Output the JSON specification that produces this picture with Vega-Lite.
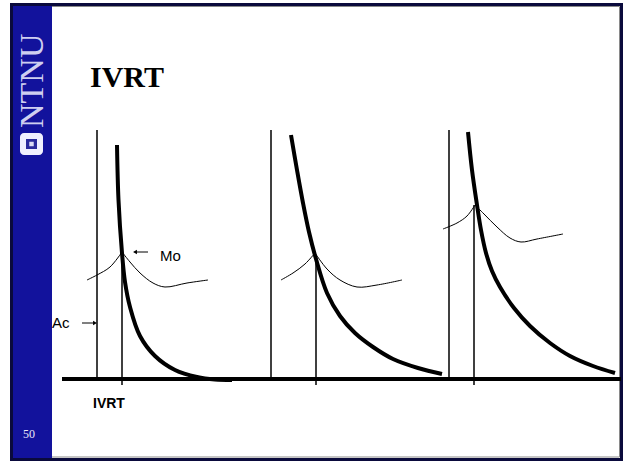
{
  "$schema": "https://vega.github.io/schema/vega-lite/v6.json",
  "width": 628,
  "height": 461,
  "padding": 0,
  "autosize": {"type": "fit", "contains": "padding"},
  "background": "white",
  "view": {"stroke": null},
  "datasets": {
    "frame": [{"x1": 11.5, "x2": 621.5, "y1": 4.5, "y2": 459.5}],
    "inner": [{"x1": 13, "x2": 619.5, "y1": 6.5, "y2": 457}],
    "band": [{"x1": 13, "x2": 52, "y1": 6, "y2": 458}],
    "logo": [{"x1": 20, "x2": 43, "y1": 133, "y2": 155}],
    "logoInner": [{"x1": 26, "x2": 37, "y1": 139, "y2": 149}],
    "logoDot": [{"x": 31.5, "y": 144}],
    "ntnu": [{"x": 43, "y": 128, "t": "NTNU"}],
    "page": [{"x": 23, "y": 438, "t": "50"}],
    "title": [{"x": 90, "y": 87, "t": "IVRT"}],
    "baseline": [{"x1": 62, "x2": 621, "y": 379}],
    "verticals": [
      {"x": 97, "y1": 130, "y2": 380},
      {"x": 122, "y1": 253, "y2": 385},
      {"x": 271, "y1": 130, "y2": 380},
      {"x": 316, "y1": 255, "y2": 385},
      {"x": 449, "y1": 130, "y2": 380},
      {"x": 474, "y1": 205, "y2": 385}
    ],
    "pressure": [
      {"s": "1", "x": 117, "y": 145}, {"s": "1", "x": 118.5, "y": 200}, {"s": "1", "x": 122, "y": 253},
      {"s": "1", "x": 125, "y": 282}, {"s": "1", "x": 130, "y": 307}, {"s": "1", "x": 140, "y": 336},
      {"s": "1", "x": 155, "y": 356}, {"s": "1", "x": 175, "y": 370}, {"s": "1", "x": 197, "y": 377},
      {"s": "1", "x": 215, "y": 379.5}, {"s": "1", "x": 232, "y": 380},
      {"s": "2", "x": 291, "y": 135}, {"s": "2", "x": 297, "y": 170}, {"s": "2", "x": 303, "y": 203},
      {"s": "2", "x": 309, "y": 232}, {"s": "2", "x": 316, "y": 259}, {"s": "2", "x": 327, "y": 293},
      {"s": "2", "x": 340, "y": 316}, {"s": "2", "x": 355, "y": 333}, {"s": "2", "x": 373, "y": 347},
      {"s": "2", "x": 393, "y": 359}, {"s": "2", "x": 418, "y": 368}, {"s": "2", "x": 442, "y": 374},
      {"s": "3", "x": 468, "y": 132}, {"s": "3", "x": 472, "y": 170}, {"s": "3", "x": 477, "y": 205},
      {"s": "3", "x": 481, "y": 230}, {"s": "3", "x": 486, "y": 253}, {"s": "3", "x": 492, "y": 271},
      {"s": "3", "x": 500, "y": 287}, {"s": "3", "x": 514, "y": 308}, {"s": "3", "x": 530, "y": 326},
      {"s": "3", "x": 550, "y": 343}, {"s": "3", "x": 570, "y": 356}, {"s": "3", "x": 593, "y": 366},
      {"s": "3", "x": 615, "y": 373}
    ],
    "mo": [
      {"s": "1a", "x": 87, "y": 280}, {"s": "1a", "x": 97, "y": 275}, {"s": "1a", "x": 110, "y": 267},
      {"s": "1a", "x": 122, "y": 252},
      {"s": "1b", "x": 122, "y": 252}, {"s": "1b", "x": 130, "y": 262}, {"s": "1b", "x": 140, "y": 273},
      {"s": "1b", "x": 153, "y": 283}, {"s": "1b", "x": 165, "y": 287}, {"s": "1b", "x": 187, "y": 283},
      {"s": "1b", "x": 208, "y": 280},
      {"s": "2a", "x": 281, "y": 280}, {"s": "2a", "x": 293, "y": 273}, {"s": "2a", "x": 305, "y": 264},
      {"s": "2a", "x": 315, "y": 253},
      {"s": "2b", "x": 315, "y": 253}, {"s": "2b", "x": 327, "y": 269}, {"s": "2b", "x": 340, "y": 280},
      {"s": "2b", "x": 357, "y": 287}, {"s": "2b", "x": 377, "y": 285}, {"s": "2b", "x": 402, "y": 280},
      {"s": "3a", "x": 443, "y": 229}, {"s": "3a", "x": 457, "y": 223}, {"s": "3a", "x": 467, "y": 216},
      {"s": "3a", "x": 475, "y": 205},
      {"s": "3b", "x": 475, "y": 205}, {"s": "3b", "x": 484, "y": 214}, {"s": "3b", "x": 497, "y": 227},
      {"s": "3b", "x": 510, "y": 238}, {"s": "3b", "x": 521, "y": 242}, {"s": "3b", "x": 537, "y": 239},
      {"s": "3b", "x": 563, "y": 234}
    ],
    "arrowShafts": [
      {"x1": 136, "x2": 148, "y": 252},
      {"x1": 82, "x2": 94, "y": 323}
    ],
    "arrowLeft": [{"x": 135, "y": 252}],
    "arrowRight": [{"x": 95, "y": 323}],
    "labels": [
      {"x": 160, "y": 256, "t": "Mo"},
      {"x": 52, "y": 323, "t": "Ac"}
    ],
    "axisLabel": [{"x": 93, "y": 408, "t": "IVRT"}]
  },
  "layer": [
    {
      "data": {"name": "inner"},
      "mark": {"type": "rect", "fillOpacity": 0, "stroke": "#8a8a8a", "strokeWidth": 1},
      "encoding": {
        "x": {"field": "x1", "type": "quantitative", "scale": {"domain": [0, 628], "nice": false, "zero": false}, "axis": null},
        "x2": {"field": "x2"},
        "y": {"field": "y1", "type": "quantitative", "scale": {"domain": [0, 461], "nice": false, "zero": false, "reverse": true}, "axis": null},
        "y2": {"field": "y2"}
      }
    },
    {
      "data": {"name": "band"},
      "mark": {"type": "rect", "fill": "#12129c"},
      "encoding": {
        "x": {"field": "x1", "type": "quantitative", "scale": {"domain": [0, 628], "nice": false, "zero": false}, "axis": null},
        "x2": {"field": "x2"},
        "y": {"field": "y1", "type": "quantitative", "scale": {"domain": [0, 461], "nice": false, "zero": false, "reverse": true}, "axis": null},
        "y2": {"field": "y2"}
      }
    },
    {
      "data": {"name": "frame"},
      "mark": {"type": "rect", "fillOpacity": 0, "stroke": "#0a0a3c", "strokeWidth": 3},
      "encoding": {
        "x": {"field": "x1", "type": "quantitative", "scale": {"domain": [0, 628], "nice": false, "zero": false}, "axis": null},
        "x2": {"field": "x2"},
        "y": {"field": "y1", "type": "quantitative", "scale": {"domain": [0, 461], "nice": false, "zero": false, "reverse": true}, "axis": null},
        "y2": {"field": "y2"}
      }
    },
    {
      "data": {"name": "logo"},
      "mark": {"type": "rect", "fill": "#f0f0ff", "cornerRadius": 4},
      "encoding": {
        "x": {"field": "x1", "type": "quantitative", "scale": {"domain": [0, 628], "nice": false, "zero": false}, "axis": null},
        "x2": {"field": "x2"},
        "y": {"field": "y1", "type": "quantitative", "scale": {"domain": [0, 461], "nice": false, "zero": false, "reverse": true}, "axis": null},
        "y2": {"field": "y2"}
      }
    },
    {
      "data": {"name": "logoInner"},
      "mark": {"type": "rect", "fill": "#2a2a9c"},
      "encoding": {
        "x": {"field": "x1", "type": "quantitative", "scale": {"domain": [0, 628], "nice": false, "zero": false}, "axis": null},
        "x2": {"field": "x2"},
        "y": {"field": "y1", "type": "quantitative", "scale": {"domain": [0, 461], "nice": false, "zero": false, "reverse": true}, "axis": null},
        "y2": {"field": "y2"}
      }
    },
    {
      "data": {"name": "logoDot"},
      "mark": {"type": "point", "shape": "square", "filled": true, "color": "#dcdcf4", "size": 20, "opacity": 1},
      "encoding": {
        "x": {"field": "x", "type": "quantitative", "scale": {"domain": [0, 628], "nice": false, "zero": false}, "axis": null},
        "y": {"field": "y", "type": "quantitative", "scale": {"domain": [0, 461], "nice": false, "zero": false, "reverse": true}, "axis": null}
      }
    },
    {
      "data": {"name": "ntnu"},
      "mark": {"type": "text", "font": "Liberation Serif", "fontSize": 34, "color": "#cfcff0", "angle": 270, "align": "left", "baseline": "alphabetic"},
      "encoding": {
        "x": {"field": "x", "type": "quantitative", "scale": {"domain": [0, 628], "nice": false, "zero": false}, "axis": null},
        "y": {"field": "y", "type": "quantitative", "scale": {"domain": [0, 461], "nice": false, "zero": false, "reverse": true}, "axis": null},
        "text": {"field": "t"}
      }
    },
    {
      "data": {"name": "page"},
      "mark": {"type": "text", "font": "Liberation Serif", "fontSize": 12, "color": "#e8e8f8", "align": "left", "baseline": "alphabetic"},
      "encoding": {
        "x": {"field": "x", "type": "quantitative", "scale": {"domain": [0, 628], "nice": false, "zero": false}, "axis": null},
        "y": {"field": "y", "type": "quantitative", "scale": {"domain": [0, 461], "nice": false, "zero": false, "reverse": true}, "axis": null},
        "text": {"field": "t"}
      }
    },
    {
      "data": {"name": "title"},
      "mark": {"type": "text", "font": "Liberation Serif", "fontSize": 30, "fontWeight": "bold", "color": "#000000", "align": "left", "baseline": "alphabetic"},
      "encoding": {
        "x": {"field": "x", "type": "quantitative", "scale": {"domain": [0, 628], "nice": false, "zero": false}, "axis": null},
        "y": {"field": "y", "type": "quantitative", "scale": {"domain": [0, 461], "nice": false, "zero": false, "reverse": true}, "axis": null},
        "text": {"field": "t"}
      }
    },
    {
      "data": {"name": "verticals"},
      "mark": {"type": "rule", "color": "#000000", "strokeWidth": 1.5},
      "encoding": {
        "x": {"field": "x", "type": "quantitative", "scale": {"domain": [0, 628], "nice": false, "zero": false}, "axis": null},
        "y": {"field": "y1", "type": "quantitative", "scale": {"domain": [0, 461], "nice": false, "zero": false, "reverse": true}, "axis": null},
        "y2": {"field": "y2"}
      }
    },
    {
      "data": {"name": "baseline"},
      "mark": {"type": "rule", "color": "#000000", "strokeWidth": 4},
      "encoding": {
        "x": {"field": "x1", "type": "quantitative", "scale": {"domain": [0, 628], "nice": false, "zero": false}, "axis": null},
        "x2": {"field": "x2"},
        "y": {"field": "y", "type": "quantitative", "scale": {"domain": [0, 461], "nice": false, "zero": false, "reverse": true}, "axis": null}
      }
    },
    {
      "data": {"name": "pressure"},
      "mark": {"type": "line", "color": "#000000", "strokeWidth": 4, "interpolate": "catmull-rom", "strokeCap": "butt"},
      "encoding": {
        "x": {"field": "x", "type": "quantitative", "scale": {"domain": [0, 628], "nice": false, "zero": false}, "axis": null},
        "y": {"field": "y", "type": "quantitative", "scale": {"domain": [0, 461], "nice": false, "zero": false, "reverse": true}, "axis": null},
        "detail": {"field": "s"}
      }
    },
    {
      "data": {"name": "mo"},
      "mark": {"type": "line", "color": "#000000", "strokeWidth": 1, "interpolate": "catmull-rom"},
      "encoding": {
        "x": {"field": "x", "type": "quantitative", "scale": {"domain": [0, 628], "nice": false, "zero": false}, "axis": null},
        "y": {"field": "y", "type": "quantitative", "scale": {"domain": [0, 461], "nice": false, "zero": false, "reverse": true}, "axis": null},
        "detail": {"field": "s"}
      }
    },
    {
      "data": {"name": "arrowShafts"},
      "mark": {"type": "rule", "color": "#000000", "strokeWidth": 1},
      "encoding": {
        "x": {"field": "x1", "type": "quantitative", "scale": {"domain": [0, 628], "nice": false, "zero": false}, "axis": null},
        "x2": {"field": "x2"},
        "y": {"field": "y", "type": "quantitative", "scale": {"domain": [0, 461], "nice": false, "zero": false, "reverse": true}, "axis": null}
      }
    },
    {
      "data": {"name": "arrowLeft"},
      "mark": {"type": "point", "shape": "triangle-left", "filled": true, "color": "#000000", "size": 20, "opacity": 1},
      "encoding": {
        "x": {"field": "x", "type": "quantitative", "scale": {"domain": [0, 628], "nice": false, "zero": false}, "axis": null},
        "y": {"field": "y", "type": "quantitative", "scale": {"domain": [0, 461], "nice": false, "zero": false, "reverse": true}, "axis": null}
      }
    },
    {
      "data": {"name": "arrowRight"},
      "mark": {"type": "point", "shape": "triangle-right", "filled": true, "color": "#000000", "size": 20, "opacity": 1},
      "encoding": {
        "x": {"field": "x", "type": "quantitative", "scale": {"domain": [0, 628], "nice": false, "zero": false}, "axis": null},
        "y": {"field": "y", "type": "quantitative", "scale": {"domain": [0, 461], "nice": false, "zero": false, "reverse": true}, "axis": null}
      }
    },
    {
      "data": {"name": "labels"},
      "mark": {"type": "text", "font": "Liberation Sans", "fontSize": 15, "color": "#000000", "align": "left", "baseline": "middle"},
      "encoding": {
        "x": {"field": "x", "type": "quantitative", "scale": {"domain": [0, 628], "nice": false, "zero": false}, "axis": null},
        "y": {"field": "y", "type": "quantitative", "scale": {"domain": [0, 461], "nice": false, "zero": false, "reverse": true}, "axis": null},
        "text": {"field": "t"}
      }
    },
    {
      "data": {"name": "axisLabel"},
      "mark": {"type": "text", "font": "Liberation Sans", "fontSize": 14, "fontWeight": "bold", "color": "#000000", "align": "left", "baseline": "alphabetic"},
      "encoding": {
        "x": {"field": "x", "type": "quantitative", "scale": {"domain": [0, 628], "nice": false, "zero": false}, "axis": null},
        "y": {"field": "y", "type": "quantitative", "scale": {"domain": [0, 461], "nice": false, "zero": false, "reverse": true}, "axis": null},
        "text": {"field": "t"}
      }
    }
  ]
}
